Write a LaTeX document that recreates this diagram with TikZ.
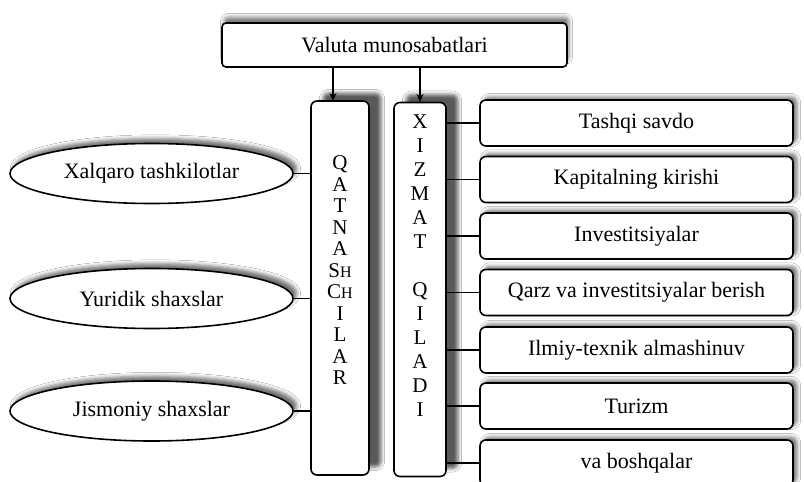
\documentclass[tikz,border=0pt]{standalone}
\usepackage{fontspec}
\setmainfont{Liberation Serif}
\usetikzlibrary{arrows.meta,shapes.geometric,shadows.blur}

\begin{document}
\begin{tikzpicture}[
  x=0.5pt,y=-0.5pt,
  >={Stealth[length=4pt,width=3.5pt]},
  line width=0.7pt,
  every node/.style={font=\fontsize{11}{13}\selectfont},
  topbox/.style={rectangle,rounded corners=2pt,draw,line width=0.8pt,fill=white,
    minimum width=172.5pt,minimum height=22pt,inner sep=0pt,
    blur shadow={shadow xshift=1pt,shadow yshift=3pt,shadow opacity=50,shadow blur steps=4}},
  colbox/.style={rectangle,rounded corners=3pt,draw,line width=0.8pt,fill=white,
    minimum height=187pt,inner sep=0pt,
    blur shadow={shadow xshift=6pt,shadow yshift=4pt,shadow opacity=65,shadow blur steps=4}},
  part/.style={ellipse,draw,line width=0.8pt,fill=white,
    minimum width=141.5pt,minimum height=30pt,inner sep=0pt,
    blur shadow={shadow xshift=2pt,shadow yshift=2.5pt,shadow opacity=55,shadow blur steps=4}},
  serv/.style={rectangle,rounded corners=3pt,draw,line width=0.8pt,fill=white,
    minimum width=156.5pt,minimum height=23pt,inner sep=0pt,
    blur shadow={shadow xshift=2pt,shadow yshift=1.5pt,shadow opacity=55,shadow blur steps=4}},
  letters/.style={align=center,inner sep=0pt,font=\fontsize{10.5}{10.75}\selectfont}
]
\useasboundingbox (0,0) rectangle (804,482);
\clip (0,0) rectangle (804,482);
\fill[white] (0,0) rectangle (804,482);

% top
\node[topbox] (val) at (394.5,45) {Valuta munosabatlari};

% columns
\node[colbox,minimum width=29pt] (qat) at (340,288) {};
\node[colbox,minimum width=26pt] (xiz) at (420,289.5) {};
\node[letters] (qattxt) at (340,270.5)
  {Q\\A\\T\\N\\A\\S{\fontsize{8}{8}\selectfont H}\\C{\fontsize{8}{8}\selectfont H}\\I\\L\\A\\R};
\node[letters,font=\fontsize{10.5}{12}\selectfont] (xiztxt) at (420,266)
  {X\\I\\Z\\M\\A\\T\\[12pt]Q\\I\\L\\A\\D\\I};
\coordinate (aq) at (333,101);
\coordinate (ax) at (420,102);
\draw[->] (val.south -| aq) -- (aq);
\draw[->] (val.south -| ax) -- (ax);

% participants
\node[part] (xal) at (151.5,173.5) {Xalqaro tashkilotlar};
\node[part] (yur) at (151.5,298.5) {Yuridik shaxslar};
\node[part] (jis) at (151.5,411) {Jismoniy shaxslar};
\draw (xal.east) -- (xal.east -| qat.west);
\draw (yur.east) -- (yur.east -| qat.west);
\draw (jis.east) -- (jis.east -| qat.west);

% services
\node[serv] (tas) at (636.5,123) {Tashqi savdo};
\node[serv] (kap) at (636.5,179.5) {Kapitalning kirishi};
\node[serv] (inv) at (636.5,236) {Investitsiyalar};
\node[serv] (qar) at (636.5,292.5) {Qarz va investitsiyalar berish};
\node[serv] (ilm) at (636.5,350) {Ilmiy-texnik almashinuv};
\node[serv] (tur) at (636.5,406) {Turizm};
\node[serv] (bos) at (636.5,463) {va boshqalar};
\draw (tas.west -| xiz.east) -- (tas.west);
\draw (kap.west -| xiz.east) -- (kap.west);
\draw (inv.west -| xiz.east) -- (inv.west);
\draw (qar.west -| xiz.east) -- (qar.west);
\draw (ilm.west -| xiz.east) -- (ilm.west);
\draw (tur.west -| xiz.east) -- (tur.west);
\draw (bos.west -| xiz.east) -- (bos.west);
\end{tikzpicture}
\end{document}
